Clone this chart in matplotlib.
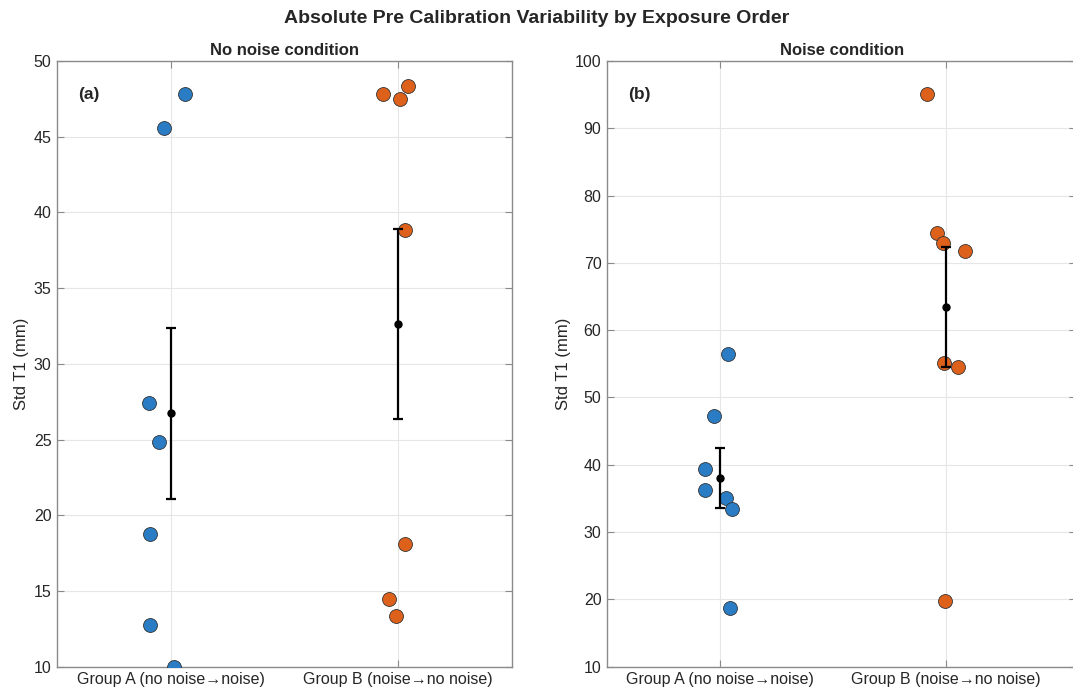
import numpy as np
import matplotlib
matplotlib.use("Agg")
import matplotlib.pyplot as plt

plt.rcParams["font.family"] = ["Liberation Sans", "DejaVu Sans"]

# --- data (Std T1, mm) ---
groups = ["Group A (no noise\u2192noise)", "Group B (noise\u2192no noise)"]

quiet_a = [47.8, 45.57, 27.4, 24.86, 18.76, 12.73, 10.0]
quiet_a_jit = [0.063, -0.029, -0.095, -0.051, -0.089, -0.092, 0.016]
quiet_b = [47.84, 47.49, 48.37, 38.86, 18.1, 14.49, 13.34]
quiet_b_jit = [-0.066, 0.010, 0.045, 0.029, 0.029, -0.041, -0.010]

noise_a = [56.51, 47.31, 39.34, 36.27, 35.13, 33.5, 18.66]
noise_a_jit = [0.035, -0.028, -0.066, -0.066, 0.027, 0.055, 0.047]
noise_b = [95.15, 74.42, 72.88, 71.75, 55.13, 54.58, 19.74]
noise_b_jit = [-0.084, -0.040, -0.013, 0.087, -0.009, 0.056, -0.003]

panels = [
    dict(title="No noise condition", tag="(a)", ylim=(10, 50), yticks=np.arange(10, 51, 5),
         a=quiet_a, aj=quiet_a_jit, b=quiet_b, bj=quiet_b_jit),
    dict(title="Noise condition", tag="(b)", ylim=(10, 100), yticks=np.arange(10, 101, 10),
         a=noise_a, aj=noise_a_jit, b=noise_b, bj=noise_b_jit),
]

BLUE = "#2A7DC4"
ORANGE = "#DE611B"
BOX = "#8a8a8a"
TXT = "#262626"

fig = plt.figure(figsize=(10.73, 6.93), dpi=100)
axes = [fig.add_axes([0.0531, 0.0380, 0.4238, 0.874]),
        fig.add_axes([0.5657, 0.0380, 0.4375, 0.874])]
xlims = [(0.5, 2.5), (0.5, 2.58)]

for ax, p, xl in zip(axes, panels, xlims):
    for pos, vals, jit, col in [(1, p["a"], p["aj"], BLUE), (2, p["b"], p["bj"], ORANGE)]:
        vals = np.asarray(vals)
        ax.plot(pos + np.asarray(jit), vals, "o", ms=10, mfc=col, mec="#333333",
                mew=0.6, zorder=3)
        # mean +/- SEM
        sem = vals.std(ddof=1) / np.sqrt(len(vals))
        ax.errorbar(pos, vals.mean(), yerr=sem, fmt="o", color="black", ms=5,
                    elinewidth=1.6, capsize=3.5, capthick=1.6, zorder=4)

    ax.set_xlim(*xl)
    ax.set_ylim(*p["ylim"])
    ax.set_yticks(p["yticks"])
    ax.set_xticks([1, 2])
    ax.set_xticklabels(groups)
    ax.grid(True, color="#e6e6e6", linewidth=0.8)
    ax.set_axisbelow(True)
    for sp in ax.spines.values():
        sp.set_color(BOX)
        sp.set_linewidth(1.0)
    ax.tick_params(direction="in", length=5, color=BOX, labelcolor=TXT, labelsize=11.5,
                   top=True, right=True, pad=4)
    ax.set_ylabel("Std T1 (mm)", fontsize=12, color=TXT, labelpad=3)
    ax.set_title(p["title"], fontsize=12, fontweight="bold", color=TXT, pad=4)
    ax.text(0.046, 0.945, p["tag"], transform=ax.transAxes, fontsize=12.5,
            fontweight="bold", color=TXT, va="center", ha="left")

fig.suptitle("Absolute Pre Calibration Variability by Exposure Order",
             fontsize=14, fontweight="bold", color=TXT, y=0.974, va="center")

fig.savefig("out.png", dpi=100)
